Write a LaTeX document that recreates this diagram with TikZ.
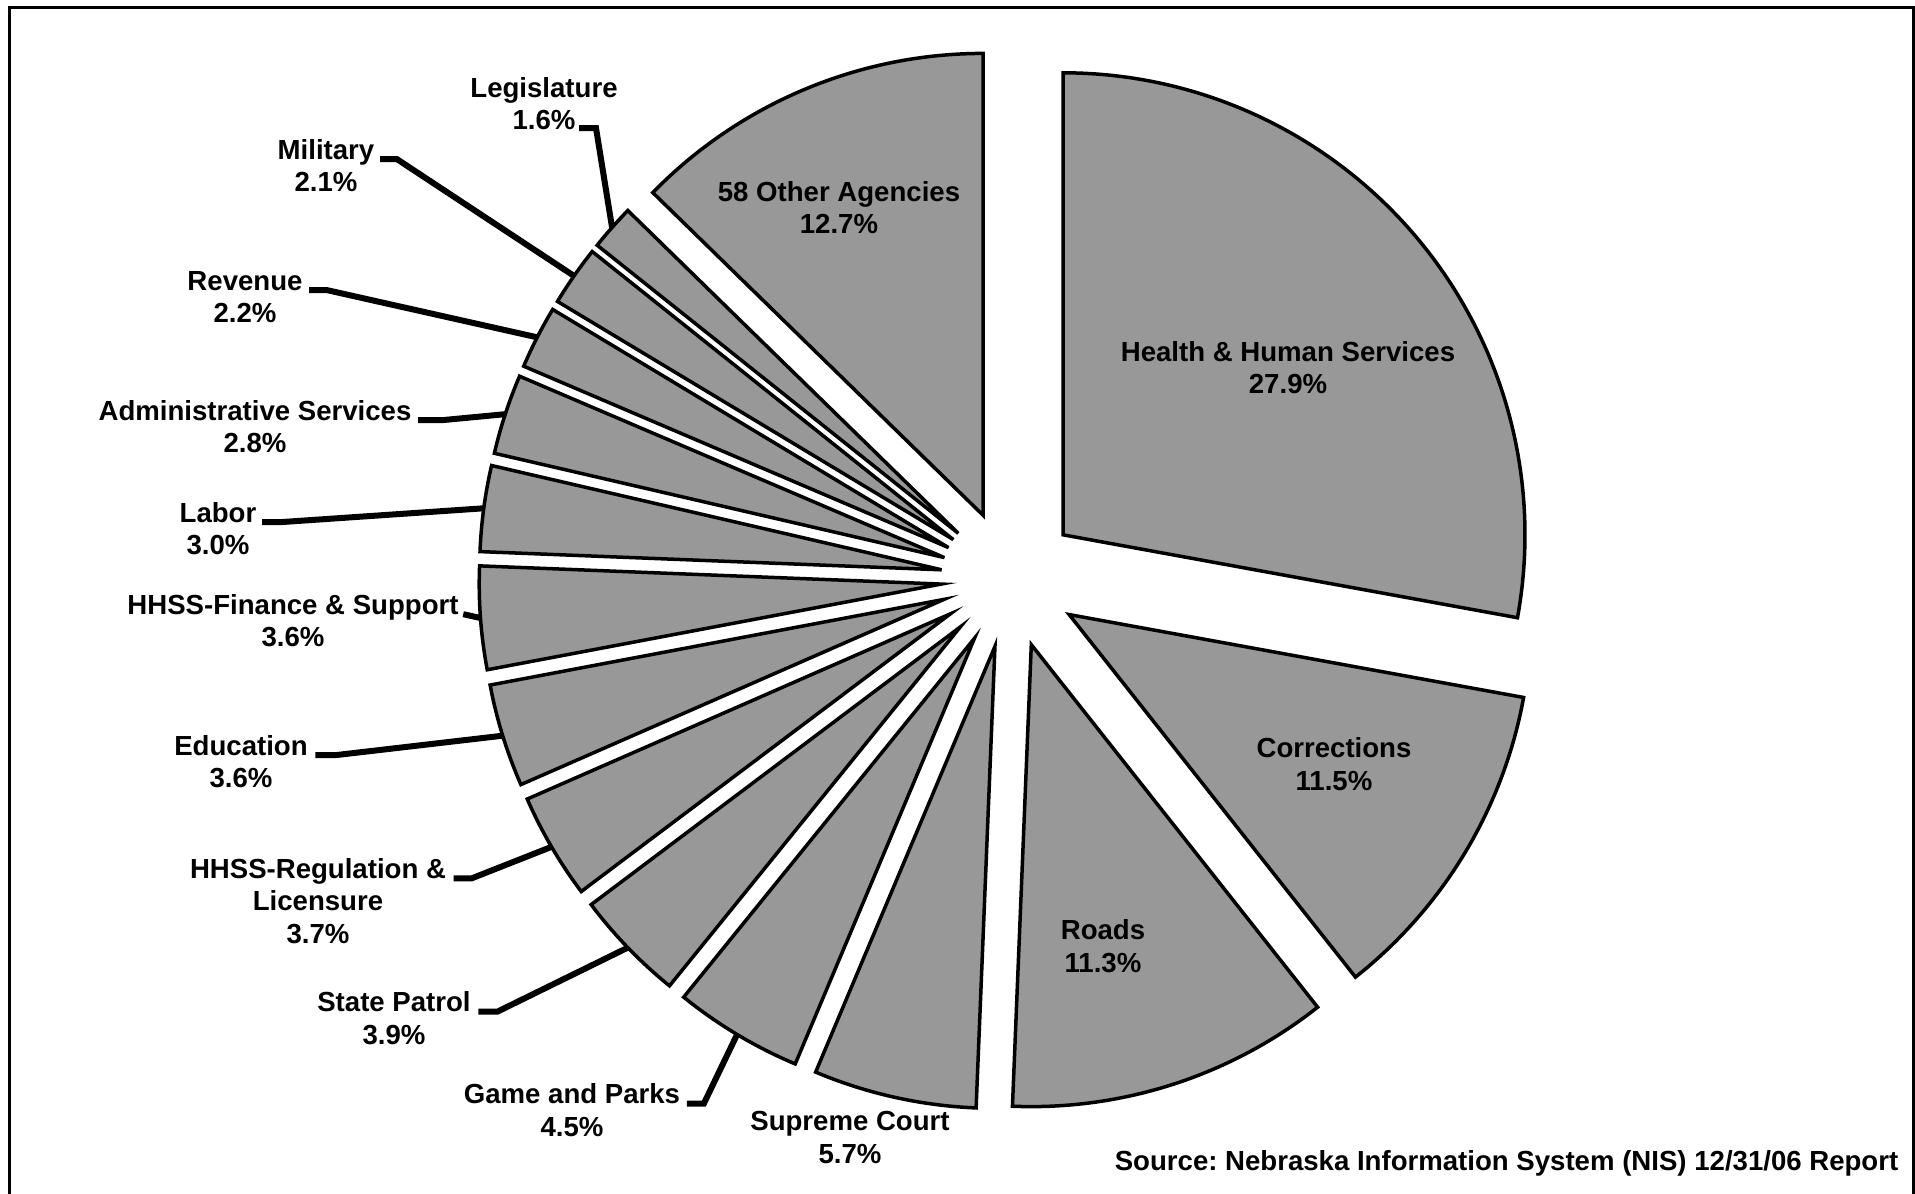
\documentclass[tikz,border=0pt]{standalone}
\usepackage{fontspec}
\setmainfont{Liberation Sans}
\frenchspacing
\usetikzlibrary{positioning}
\definecolor{slicegray}{RGB}{152,152,152}

\begin{document}
\begin{tikzpicture}[x=0.1mm,y=0.1mm,
    slice/.style={fill=slicegray,draw=black,line width=0.35mm,line join=miter},
    lbl/.style={align=center,inner sep=0pt,font=\fontsize{7.85}{9.2}\selectfont\bfseries,anchor=base},
    leader/.style={line width=0.6mm,draw=black},
   ]
    \useasboundingbox (0,0) rectangle (1915,-1194);
    \draw[line width=0.3mm] (9,-1194) -- (9,-7) -- (1913,-7) -- (1913,-1194);

    \coordinate (C) at (1010,-579);

    \foreach \n/\a/\b in {hhs/90/-10.34, cor/-10.34/-51.70, roa/-51.70/-92.34,
        sup/-92.34/-112.84, gam/-112.84/-129.02, pat/-129.02/-143.05,
        reg/-143.05/-156.36, edu/-156.36/-169.31, fin/-169.31/-182.26,
        lab/-182.26/-193.05, adm/-193.05/-203.12, rev/-203.12/-211.03,
        mil/-211.03/-218.58, leg/-218.58/-224.33, oth/-224.33/-270}{
      \pgfmathsetmacro\m{(\a+\b)/2}
      \draw[slice] (C) ++(\m:6.9mm) coordinate (\n-tip) -- ++(\a:46.2mm)
          arc[start angle=\a, end angle=\b, radius=46.2mm] -- cycle;
      \path (C) ++(\m:53.1mm) coordinate (\n-rim);
    }

    % base anchor sits on the last line
    \node (leg) [lbl] at (544,-129.5)  {Legislature\\1.6\%};
    \node (mil) [lbl] at (326,-191.5)  {Military\\2.1\%};
    \node (rev) [lbl] at (245,-322.5)  {Revenue\\2.2\%};
    \node (adm) [lbl] at (255,-452.5)  {Administrative Services\\2.8\%};
    \node (lab) [lbl] at (218,-554.5)  {Labor\\3.0\%};
    \node (fin) [lbl] at (293,-646.5)  {HHSS-Finance \& Support\\3.6\%};
    \node (edu) [lbl] at (241,-787.5)  {Education\\3.6\%};
    \node (reg) [lbl] at (318,-943)    {HHSS-Regulation \&\\Licensure\\3.7\%};
    \node (pat) [lbl] at (394,-1044)   {State Patrol\\3.9\%};
    \node (gam) [lbl] at (572,-1136)   {Game and Parks\\4.5\%};
    \node (sup) [lbl] at (850,-1163)   {Supreme Court\\5.7\%};

    \node (oth) [lbl] at (839,-233.5)  {58 Other Agencies\\12.7\%};
    \node (hhs) [lbl] at (1288,-393.5) {Health \& Human Services\\27.9\%};
    \node (cor) [lbl] at (1334,-790)   {Corrections\\11.5\%};
    \node (roa) [lbl] at (1103,-972)   {Roads\\11.3\%};

    \node (src) [lbl,anchor=base east] at (1899,-1170) {Source: Nebraska Information System (NIS) 12/31/06 Report};

    \coordinate (leg-l) at (579,-128);
    \draw[leader] (leg-l) -- ++(1.7mm,0) -- (leg-rim);
    \draw[leader] ([xshift=0.5mm,yshift=9.2pt]mil.base east) -- ++(1.7mm,0) -- (mil-rim);
    \draw[leader] ([xshift=0.6mm,yshift=9.2pt]rev.base east) -- ++(1.8mm,0) -- (rev-rim);
    \draw[leader] ([xshift=0.6mm,yshift=9.2pt]adm.base east) -- ++(2.4mm,0) -- (adm-rim);
    \draw[leader] ([xshift=0.5mm,yshift=9.2pt]lab.base east) -- ++(1.8mm,0) -- (lab-rim);
    \draw[leader] ([xshift=0.4mm,yshift=9.2pt]fin.base east) -- (fin-rim);
    \draw[leader] ([xshift=0.7mm,yshift=9.2pt]edu.base east) -- ++(2mm,0) -- (edu-rim);
    \draw[leader] ([xshift=0.7mm,yshift=18.4pt]reg.base east) -- ++(1.8mm,0) -- (reg-rim);
    \draw[leader] ([xshift=0.7mm,yshift=9.2pt]pat.base east) -- ++(1.9mm,0) -- (pat-rim);
    \draw[leader] ([xshift=0.6mm,yshift=9.2pt]gam.base east) -- ++(1.7mm,0) -- (gam-rim);
\end{tikzpicture}
\end{document}
